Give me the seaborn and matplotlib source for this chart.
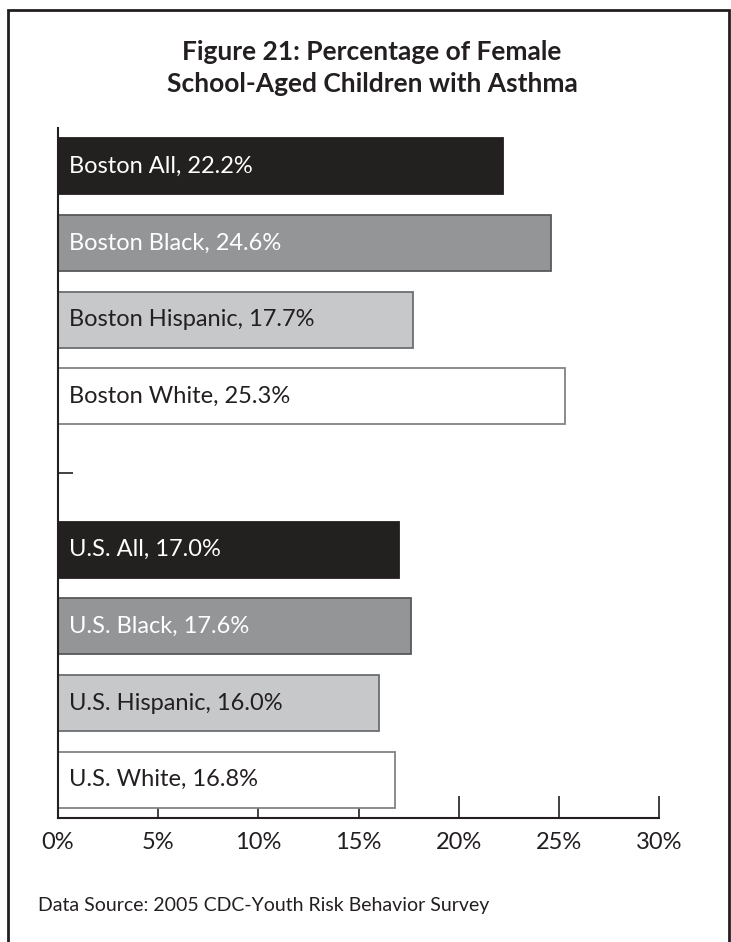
import matplotlib
matplotlib.use("Agg")
import matplotlib.pyplot as plt
from matplotlib.patches import Rectangle
import seaborn as sns
import pandas as pd

# chart values
groups = ["Boston All", "Boston Black", "Boston Hispanic", "Boston White",
          "U.S. All", "U.S. Black", "U.S. Hispanic", "U.S. White"]
percents = [22.2, 24.6, 17.7, 25.3, 17.0, 17.6, 16.0, 16.8]
# blank slot between Boston and U.S. groups
order = groups[:4] + [""] + groups[4:]
x_ticks = [0, 5, 10, 15, 20, 25, 30]
x_ticklabels = ["0%", "5%", "10%", "15%", "20%", "25%", "30%"]
title = "Figure 21: Percentage of Female\nSchool-Aged Children with Asthma"
source = "Data Source: 2005 CDC-Youth Risk Behavior Survey"

fills = ["#231f20", "#939598", "#c7c8ca", "#ffffff"] * 2
edges = ["#231f20", "#58595b", "#6d6e71", "#808285"] * 2
text_colors = ["white", "white", "#231f20", "#231f20"] * 2

sns.set_style("white")
plt.rcParams["font.family"] = ["Lato", "DejaVu Sans"]

df = pd.DataFrame({"group": groups, "pct": percents})

fig = plt.figure(figsize=(7.31, 9.42), dpi=100)
ax = fig.add_axes([58 / 731, 1 - 818 / 942, (659 - 58) / 731, (818 - 128) / 942])

sns.barplot(data=df, x="pct", y="group", hue="group", order=order,
            hue_order=groups, palette=dict(zip(groups, fills)),
            width=0.73, legend=False, ax=ax)

for bar, ec in zip(ax.patches, edges):
    bar.set_edgecolor(ec)
    bar.set_linewidth(1.3)

for g, p, tc in zip(groups, percents, text_colors):
    ax.text(0.55, order.index(g), f"{g}, {p:.1f}%", color=tc,
            fontsize=17, va="center", ha="left")

ax.set_xlim(0, 30)
ax.set_ylim(len(order) - 0.5, -0.5)
ax.set_xticks(x_ticks)
ax.set_xticklabels(x_ticklabels)
ax.set_yticks([order.index("")])
ax.set_yticklabels([""])
ax.set_xlabel("")
ax.set_ylabel("")
ax.tick_params(axis="x", bottom=True, direction="in", length=16, width=1.2,
               color="#231f20", labelsize=17, labelcolor="#231f20", pad=10)
ax.tick_params(axis="y", left=True, direction="in", length=11, width=1.2,
               color="#231f20")
sns.despine(ax=ax, top=True, right=True)
for s in ["left", "bottom"]:
    ax.spines[s].set_color("#231f20")
    ax.spines[s].set_linewidth(1.5)

fig.text(372 / 731, 1 - 68 / 942, title, ha="center", va="center",
         fontsize=19, fontweight="bold", color="#231f20", linespacing=1.45)
fig.text(38 / 731, 1 - 906 / 942, source, ha="left", va="center",
         fontsize=14, color="#231f20")

fig.patches.append(Rectangle((8 / 731, -0.02), (729 - 8) / 731, 1 - 10 / 942 + 0.02,
                             transform=fig.transFigure, fill=False,
                             edgecolor="#231f20", linewidth=2))

fig.savefig("out.png", dpi=100)
